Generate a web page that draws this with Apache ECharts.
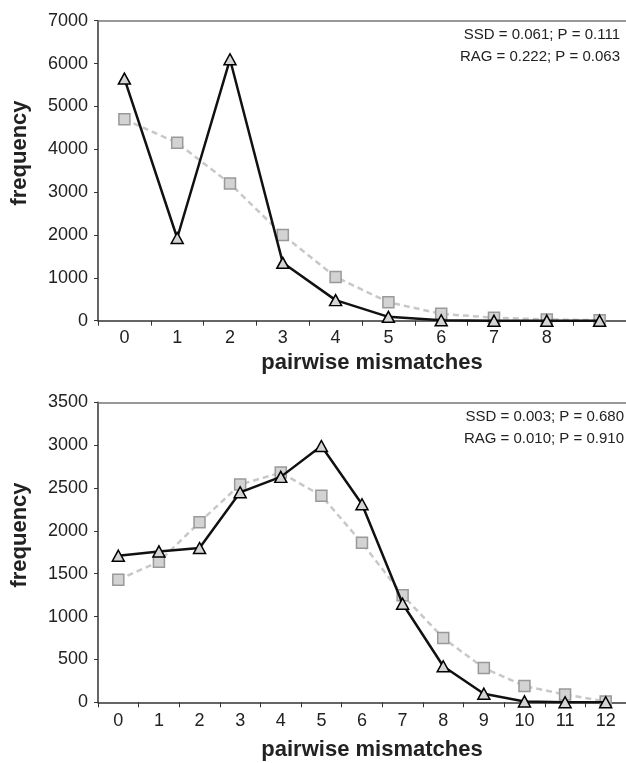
<!DOCTYPE html>
<html>
<head>
<meta charset="utf-8">
<script src="https://cdn.jsdelivr.net/npm/echarts@6/dist/echarts.min.js"></script>
<style>html,body{margin:0;padding:0;background:#fff}#c{width:626px;height:763px}</style>
</head>
<body>
<div id="c"></div>
<script>
// ---- data ----
const topCategories = ['0','1','2','3','4','5','6','7','8',''];
const topObserved = [5650, 1930, 6100, 1350, 480, 90, 10, 0, 0, 0];
const topExpected = [4700, 4150, 3200, 2000, 1020, 430, 160, 70, 30, 10];
const topYTicks = {min: 0, max: 7000, interval: 1000};
const topStats = ['SSD = 0.061; P = 0.111', 'RAG = 0.222; P = 0.063'];

const botCategories = ['0','1','2','3','4','5','6','7','8','9','10','11','12'];
const botObserved = [1710, 1760, 1800, 2450, 2630, 2990, 2310, 1150, 420, 100, 10, 0, 0];
const botExpected = [1430, 1640, 2100, 2540, 2680, 2410, 1860, 1250, 750, 400, 190, 90, 10];
const botYTicks = {min: 0, max: 3500, interval: 500};
const botStats = ['SSD = 0.003; P = 0.680', 'RAG = 0.010; P = 0.910'];

const xTitle = 'pairwise mismatches';
const yTitle = 'frequency';

// ---- chart ----
const FONT = "'Liberation Sans', Arial, Helvetica, sans-serif";
const axisColor = '#333';
const chart = echarts.init(document.getElementById('c'), null, {renderer: 'canvas'});

function xBottom(gridIndex, cats, labelMargin, nameGap) {
  return {
    type: 'category', gridIndex, data: cats, position: 'bottom', boundaryGap: true,
    axisLine: {show: true, lineStyle: {color: axisColor, width: 1.5}},
    axisTick: {show: true, length: 5, interval: 0, lineStyle: {color: axisColor, width: 1}},
    axisLabel: {interval: 0, margin: labelMargin, color: '#222', fontSize: 18, fontFamily: FONT},
    splitLine: {show: false},
    name: xTitle, nameLocation: 'middle', nameGap: nameGap,
    nameTextStyle: {fontSize: 22, fontWeight: 'bold', color: '#222', fontFamily: FONT,
      verticalAlign: 'top', padding: [0, 0, 0, 20]}
  };
}
function xTopLine(gridIndex, cats) {
  return {
    type: 'category', gridIndex, data: cats, position: 'top', boundaryGap: true,
    axisLine: {show: true, lineStyle: {color: '#777', width: 1.5}},
    axisTick: {show: false}, axisLabel: {show: false}, splitLine: {show: false}
  };
}
function yAx(gridIndex, t) {
  return {
    type: 'value', gridIndex, min: t.min, max: t.max, interval: t.interval,
    axisLine: {show: true, lineStyle: {color: axisColor, width: 1.5}},
    axisTick: {show: true, length: 4, lineStyle: {color: axisColor, width: 1}},
    axisLabel: {margin: 10, color: '#222', fontSize: 18, fontFamily: FONT,
      formatter: v => String(v)},
    splitLine: {show: false}
  };
}
function expSeries(xi, yi, data) {
  return {
    type: 'line', xAxisIndex: xi, yAxisIndex: yi, data, z: 2,
    symbol: 'rect', symbolSize: 11,
    lineStyle: {color: '#c8c8c8', width: 2.5, type: [6, 4]},
    itemStyle: {color: '#d3d3d3', borderColor: '#999', borderWidth: 1.5},
    emphasis: {disabled: true}, animation: false
  };
}
function obsSeries(xi, yi, data) {
  return {
    type: 'line', xAxisIndex: xi, yAxisIndex: yi, data, z: 3,
    symbol: 'triangle', symbolSize: [12, 11],
    lineStyle: {color: '#111', width: 2.5},
    itemStyle: {color: '#d4d4d4', borderColor: '#000', borderWidth: 1.5},
    emphasis: {disabled: true}, animation: false
  };
}
function statText(lines, right, y0) {
  return lines.map((s, i) => ({
    type: 'text', right: right, top: y0 + i * 22,
    style: {text: s, fontSize: 15, fontFamily: FONT, fill: '#222'}
  }));
}
function yTitleText(cy) {
  return {
    type: 'text', x: 20, y: cy, rotation: Math.PI / 2,
    style: {text: yTitle, fontSize: 22, fontWeight: 'bold', fontFamily: FONT, fill: '#222',
      align: 'center', verticalAlign: 'middle'}
  };
}

chart.setOption({
  animation: false,
  grid: [
    {left: 98, top: 20.7, width: 530, height: 300},
    {left: 98, top: 402.3, width: 530, height: 300}
  ],
  xAxis: [
    xBottom(0, topCategories, 8, 31),
    xTopLine(0, topCategories),
    xBottom(1, botCategories, 10, 37),
    xTopLine(1, botCategories)
  ],
  yAxis: [yAx(0, topYTicks), yAx(1, botYTicks)],
  series: [
    expSeries(0, 0, topExpected),
    obsSeries(0, 0, topObserved),
    expSeries(2, 1, botExpected),
    obsSeries(2, 1, botObserved)
  ],
  graphic: [].concat(statText(topStats, 6, 27), statText(botStats, 2, 409),
    [yTitleText(153), yTitleText(535)])
});
</script>
</body>
</html>
